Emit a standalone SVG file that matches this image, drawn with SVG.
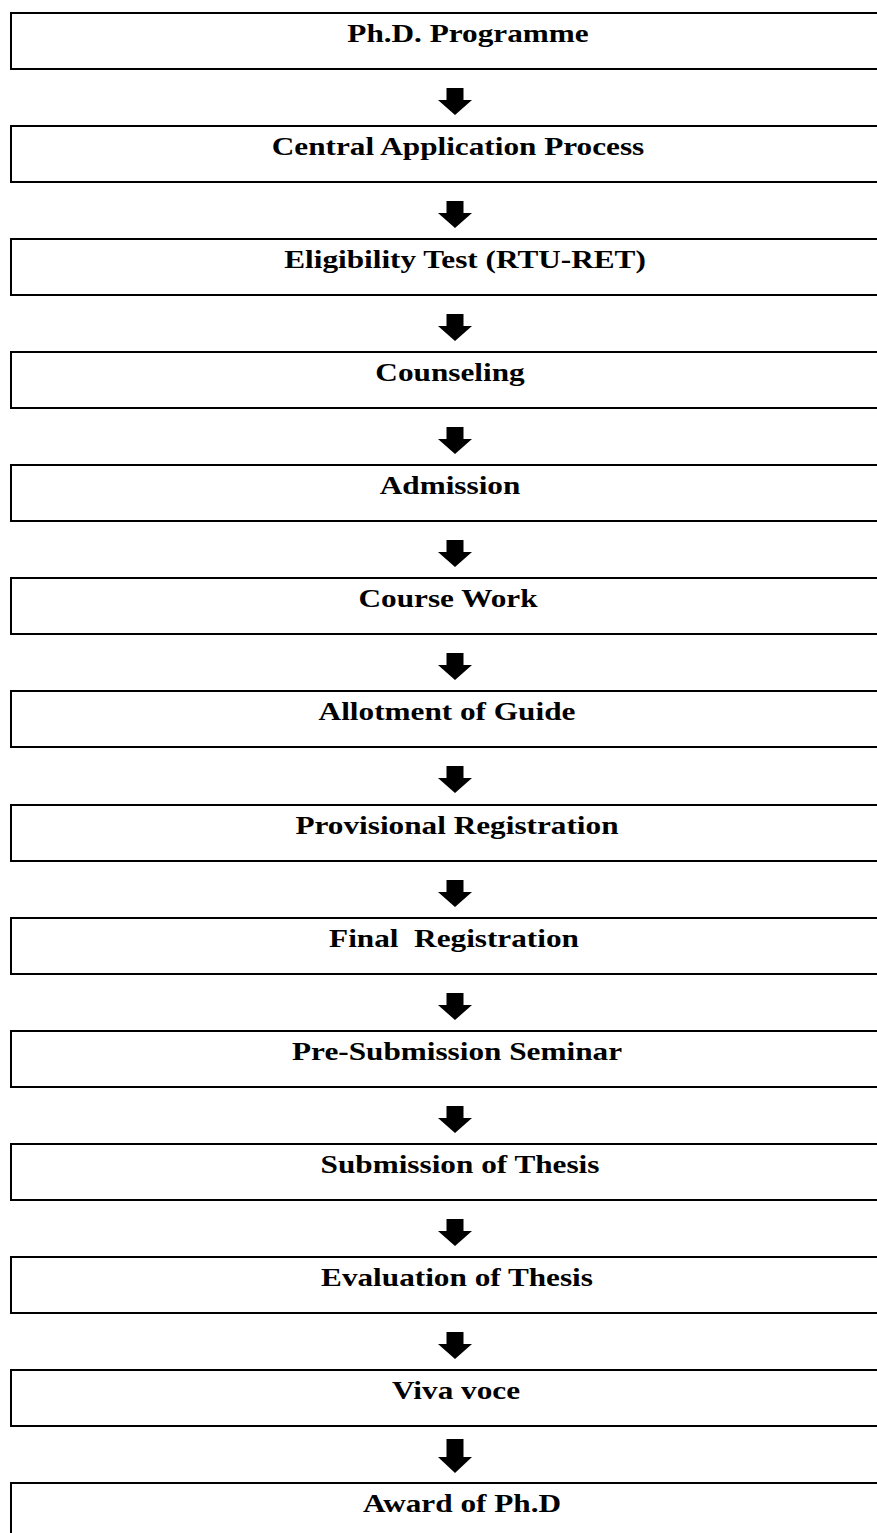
<svg xmlns="http://www.w3.org/2000/svg" width="877" height="1533" viewBox="0 0 877 1533">
<style>
.box{fill:#fff;stroke:#000;stroke-width:2}
.t{font-family:"Liberation Serif","Times New Roman",serif;font-weight:bold;font-size:25px;fill:#000;text-anchor:middle}
.arr{fill:#000}
</style>
<defs>
<path id="ar" d="M-8.5,0 H8.5 V12 H17 L0,27 L-17,12 H-8.5 Z"/>
</defs>
<rect width="877" height="1533" fill="#fff"/>
<g id="connectors">
<use href="#ar" class="arr" x="455" y="88"/>
<use href="#ar" class="arr" x="455" y="201"/>
<use href="#ar" class="arr" x="455" y="314"/>
<use href="#ar" class="arr" x="455" y="427"/>
<use href="#ar" class="arr" x="455" y="540"/>
<use href="#ar" class="arr" x="455" y="653"/>
<use href="#ar" class="arr" x="455" y="766"/>
<use href="#ar" class="arr" x="455" y="880"/>
<use href="#ar" class="arr" x="455" y="993"/>
<use href="#ar" class="arr" x="455" y="1106"/>
<use href="#ar" class="arr" x="455" y="1219"/>
<use href="#ar" class="arr" x="455" y="1332"/>
<path class="arr" d="M446.5,1439 H463.5 V1457 H472 L455,1473 L438,1457 H446.5 Z"/>
</g>
<g id="n1"><rect class="box" x="11" y="13" width="880" height="56"/><text class="t" transform="translate(468,42) scale(1.25,1)">Ph.D. Programme</text></g>
<g id="n2"><rect class="box" x="11" y="126" width="880" height="56"/><text class="t" transform="translate(458,155) scale(1.25,1)">Central Application Process</text></g>
<g id="n3"><rect class="box" x="11" y="239" width="880" height="56"/><text class="t" transform="translate(465,268) scale(1.25,1)">Eligibility Test (RTU-RET)</text></g>
<g id="n4"><rect class="box" x="11" y="352" width="880" height="56"/><text class="t" transform="translate(450,381) scale(1.25,1)">Counseling</text></g>
<g id="n5"><rect class="box" x="11" y="465" width="880" height="56"/><text class="t" transform="translate(450,494) scale(1.25,1)">Admission</text></g>
<g id="n6"><rect class="box" x="11" y="578" width="880" height="56"/><text class="t" transform="translate(448,607) scale(1.25,1)">Course Work</text></g>
<g id="n7"><rect class="box" x="11" y="691" width="880" height="56"/><text class="t" transform="translate(447,720) scale(1.25,1)">Allotment of Guide</text></g>
<g id="n8"><rect class="box" x="11" y="805" width="880" height="56"/><text class="t" transform="translate(457,834) scale(1.25,1)">Provisional Registration</text></g>
<g id="n9"><rect class="box" x="11" y="918" width="880" height="56"/><text class="t" xml:space="preserve" transform="translate(454,947) scale(1.25,1)">Final  Registration</text></g>
<g id="n10"><rect class="box" x="11" y="1031" width="880" height="56"/><text class="t" transform="translate(457,1060) scale(1.25,1)">Pre-Submission Seminar</text></g>
<g id="n11"><rect class="box" x="11" y="1144" width="880" height="56"/><text class="t" transform="translate(460,1173) scale(1.25,1)">Submission of Thesis</text></g>
<g id="n12"><rect class="box" x="11" y="1257" width="880" height="56"/><text class="t" transform="translate(457,1286) scale(1.25,1)">Evaluation of Thesis</text></g>
<g id="n13"><rect class="box" x="11" y="1370" width="880" height="56"/><text class="t" transform="translate(456,1399) scale(1.25,1)">Viva voce</text></g>
<g id="n14"><rect class="box" x="11" y="1483" width="880" height="56"/><text class="t" transform="translate(462,1512) scale(1.25,1)">Award of Ph.D</text></g>
</svg>
